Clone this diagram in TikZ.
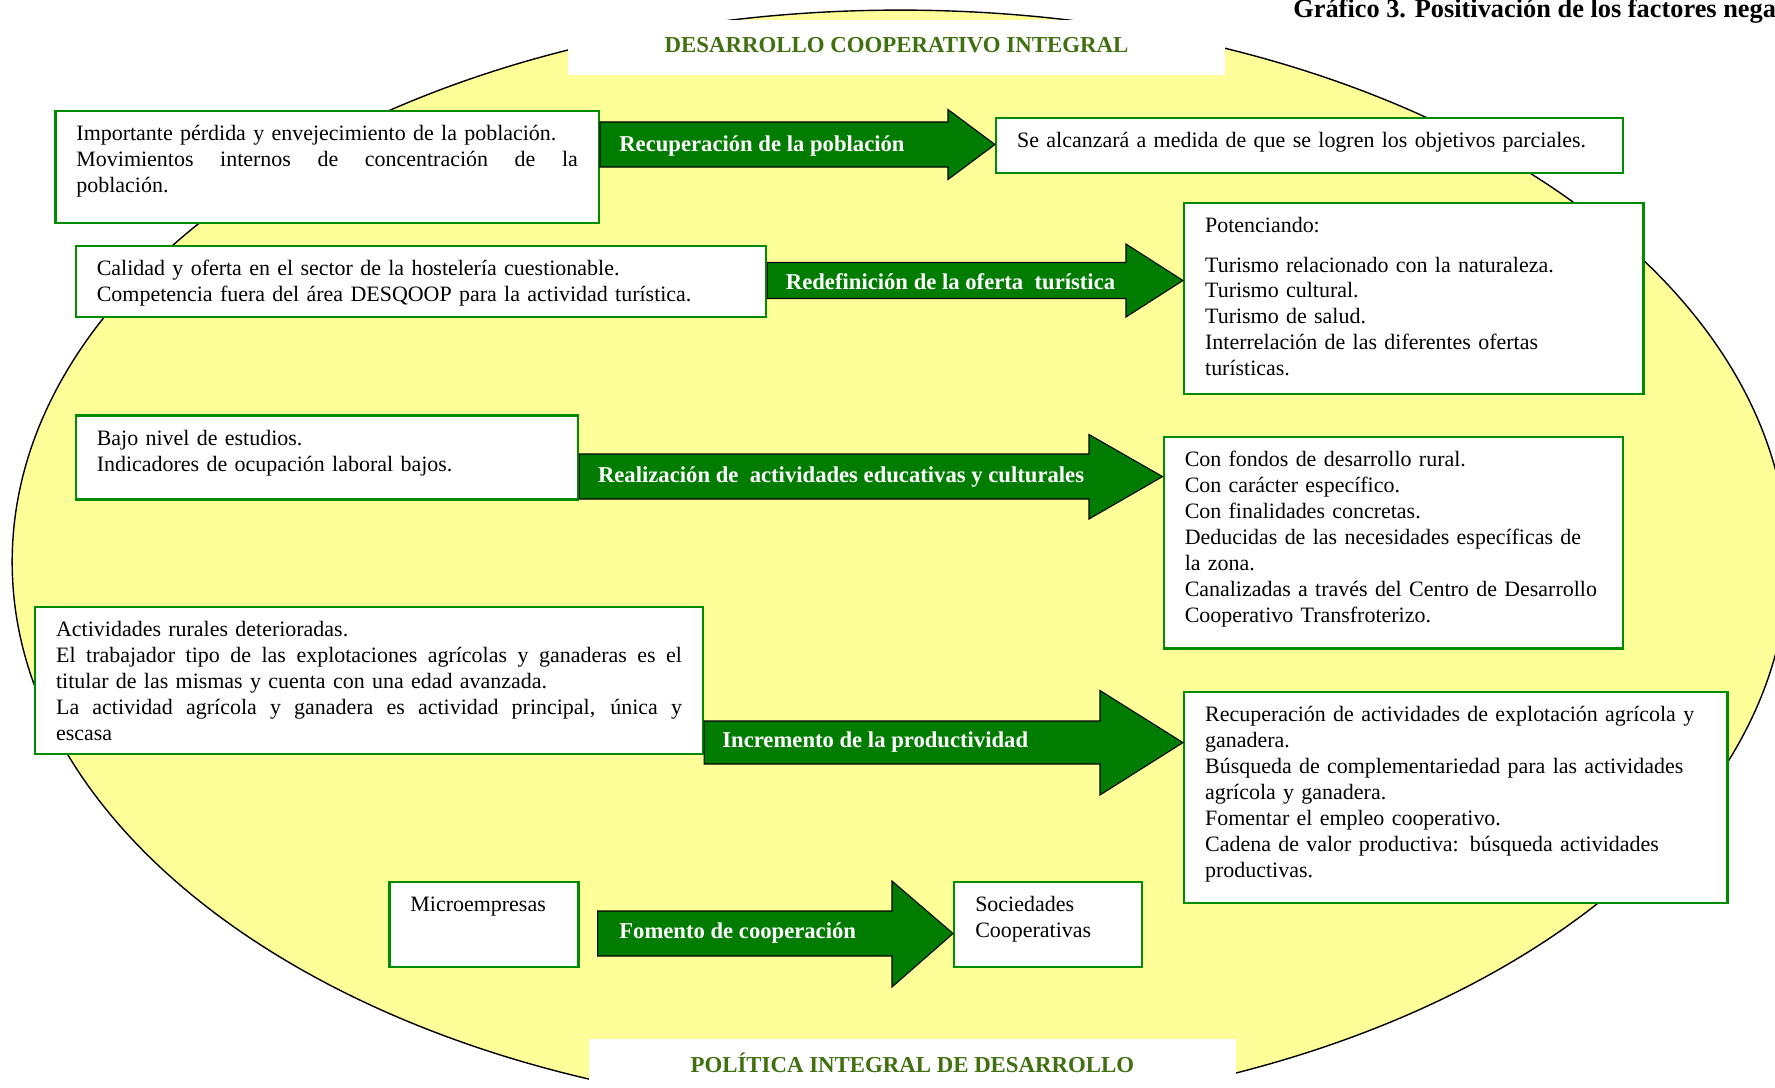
\documentclass[tikz,border=0pt]{standalone}
\usepackage{fontspec}
\setmainfont{Liberation Serif}
\usepackage{xcolor}
\usepackage{tikz}

\definecolor{amarillo}{RGB}{255,255,153}
\definecolor{verdecaja}{RGB}{0,140,0}
\definecolor{verdeflecha}{RGB}{0,125,0}
\definecolor{verdetitulo}{RGB}{64,112,16}

% linea justificada a todo el ancho
\newcommand{\justa}[1]{\makebox[\linewidth][s]{\spaceskip=0pt\relax #1}}

\begin{document}
\begin{tikzpicture}[x=0.02cm,y=-0.02cm,
            font=\fontsize{12.5pt}{14.75pt}\selectfont,
            caja/.style={draw=verdecaja, line width=1.3pt, fill=white, anchor=north west,
                inner xsep=0.42cm, inner ysep=0.25cm, text height=0.35cm, align=left},
            flecha/.style={fill=verdeflecha, draw=black, line width=0.6pt},
            rotulo/.style={text=white, font=\fontsize{12.9pt}{15pt}\selectfont\bfseries,
                anchor=west, inner sep=0pt},
            etiqueta/.style={fill=white, text=verdetitulo,
                font=\fontsize{13pt}{15pt}\selectfont\bfseries}]
    \useasboundingbox (0,0) rectangle (1775,1088);
    \clip (0,0) rectangle (1775,1088);

    \filldraw[fill=amarillo, draw=black, line width=0.8pt] (900,562) ellipse [x radius=17.76cm, y radius=11.04cm];

    \node[etiqueta, minimum width=13.13cm, minimum height=1.1cm] (dci) at (896.5,47.3) {\raisebox{0.08cm}{DESARROLLO COOPERATIVO INTEGRAL}};
    \node[etiqueta, minimum width=12.95cm, minimum height=1.0cm] (pid) at (912.4,1064) {\raisebox{0.07cm}{POLÍTICA INTEGRAL DE DESARROLLO}};
    \node[font=\fontsize{15pt}{17pt}\selectfont\bfseries, anchor=base west, inner sep=0pt] (graf) at (1293,18)
        {Gráfico 3. Positivación de los factores nega};

    % factores negativos
    \node[caja, text width=10.03cm, text depth=1.39cm] (pob) at (54.3,109.8)
        {Importante pérdida y envejecimiento de la población.\\
         \justa{Movimientos internos de concentración de la}\\
         población.};
    \node[caja, text width=12.97cm, text depth=0.58cm] (hos) at (74.7,244.5)
        {Calidad y oferta en el sector de la hostelería cuestionable.\\
         Competencia fuera del área DESQOOP para la actividad turística.};
    \node[caja, text width=9.21cm, text depth=0.83cm] (est) at (74.7,414.3)
        {Bajo nivel de estudios.\\
         Indicadores de ocupación laboral bajos.};
    \node[caja, text width=12.52cm, text depth=2.09cm] (rur) at (34,605.6)
        {Actividades rurales deterioradas.\\
         \justa{El trabajador tipo de las explotaciones agrícolas y ganaderas es el}\\
         titular de las mismas y cuenta con una edad avanzada.\\
         \justa{La actividad agrícola y ganadera es actividad principal, única y}\\
         escasa};
    \node[caja, text width=2.94cm, text depth=0.85cm] (mic) at (388.3,880.7) {Microempresas};

    % resultados
    \node[caja, text width=11.70cm, text depth=0.26cm] (obj) at (995,116.6)
        {Se alcanzará a medida de que se logren los objetivos parciales.};
    \node[caja, text width=8.35cm, text depth=2.98cm] (tur) at (1183,201.5)
        {Potenciando:\\[0.27cm]
         Turismo relacionado con la naturaleza.\\
         Turismo cultural.\\
         Turismo de salud.\\
         Interrelación de las diferentes ofertas\\
         turísticas.};
    \node[caja, text width=8.35cm, text depth=3.38cm] (fon) at (1162.6,435.8)
        {Con fondos de desarrollo rural.\\
         Con carácter específico.\\
         Con finalidades concretas.\\
         Deducidas de las necesidades específicas de\\
         la zona.\\
         Canalizadas a través del Centro de Desarrollo\\
         Cooperativo Transfroterizo.};
    \node[caja, text width=10.03cm, text depth=3.38cm] (agr) at (1183,690.5)
        {Recuperación de actividades de explotación agrícola y\\
         ganadera.\\
         Búsqueda de complementariedad para las actividades\\
         agrícola y ganadera.\\
         Fomentar el empleo cooperativo.\\
         Cadena de valor productiva: búsqueda actividades\\
         productivas.};
    \node[caja, text width=2.92cm, text depth=0.85cm] (soc) at (953.1,880.7)
        {Sociedades\\
         Cooperativas};

    % flechas
    \coordinate (coo0) at (597.7,933.5);
    \draw[flecha] (pob.east |- 0,122) -- (948,122) -- (948,109.5) -- (obj.west |- 0,144.5)
        -- (948,179.5) -- (948,167) -- (pob.east |- 0,167) -- cycle;
    \draw[flecha] (hos.east |- 0,262.5) -- (1126,262.5) -- (1126,244) -- (tur.west |- 0,280.5)
        -- (1126,317) -- (1126,298.5) -- (hos.east |- 0,298.5) -- cycle;
    \draw[flecha] (est.east |- 0,454) -- (1089,454) -- (1089,434.5) -- (fon.west |- 0,476.6)
        -- (1089,519) -- (1089,499) -- (est.east |- 0,499) -- cycle;
    \draw[flecha] (rur.east |- 0,721) -- (1100,721) -- (1100,690.5) -- (agr.west |- 0,742.6)
        -- (1100,795) -- (1100,764) -- (rur.east |- 0,764) -- cycle;
    \draw[flecha] (coo0 |- 0,911) -- (892,911) -- (892,881) -- (soc.west |- 0,933.5)
        -- (892,987) -- (892,956) -- (coo0 |- 0,956) -- cycle;

    \node[rotulo] (lrec) at (619,146) {Recuperación de la población};
    \node[rotulo] (lred) at (785.6,282) {Redefinición de la oferta\ \ turística};
    \node[rotulo] (lrea) at (597.7,477) {Realización de\ \ actividades educativas y culturales};
    \node[rotulo] (linc) at (722,742) {Incremento de la productividad};
    \node[rotulo] (lfom) at (619,933) {Fomento de cooperación};
\end{tikzpicture}
\end{document}
